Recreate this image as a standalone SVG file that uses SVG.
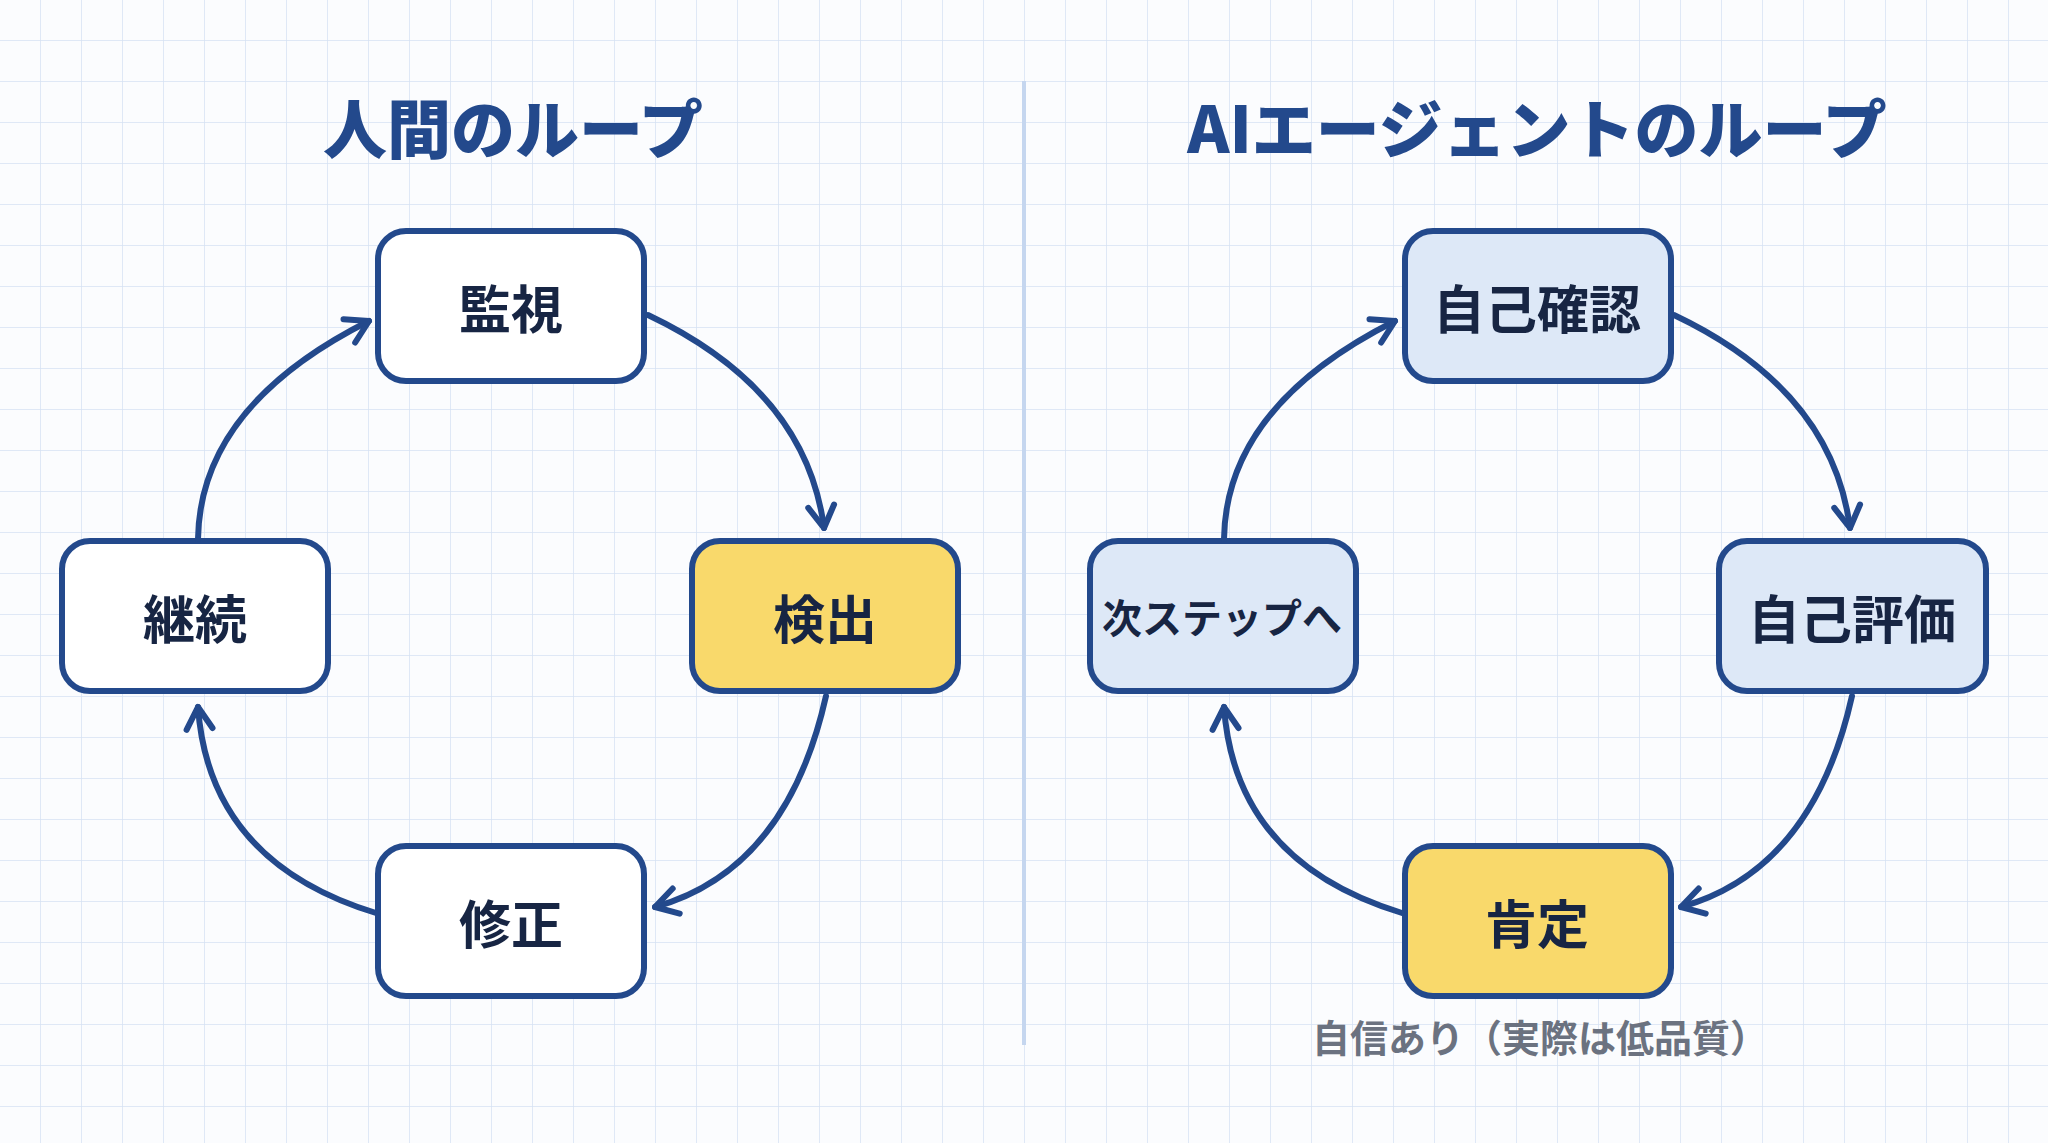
<svg xmlns="http://www.w3.org/2000/svg" width="2048" height="1143" viewBox="0 0 2048 1143">
<defs>
<pattern id="grid" width="41" height="41" patternUnits="userSpaceOnUse"><path d="M41 0V41M0 41H41" fill="none" stroke="#d6e2f3" stroke-width="1.5"/></pattern>
<marker id="ah" markerUnits="userSpaceOnUse" markerWidth="40" markerHeight="40" viewBox="-25 -20 30 40" refX="0" refY="0" orient="auto"><path d="M-22,-13 L0,0 L-22,13" fill="none" stroke="#23498c" stroke-width="6" stroke-linecap="round" stroke-linejoin="round"/></marker>
</defs>
<style>
.box{stroke:#23498c;stroke-width:6}
.w{fill:#ffffff}.y{fill:#f9d96b}.b{fill:#dde8f7}
.t{font-family:"Noto Sans CJK JP","Noto Sans",sans-serif;font-weight:bold;fill:#172543;text-anchor:middle;dominant-baseline:central;font-size:52px}
.h{font-family:"Noto Sans CJK JP","Noto Sans",sans-serif;font-weight:900;fill:#23498c;text-anchor:middle;font-size:64px}
.c{fill:none;stroke:#23498c;stroke-width:6;stroke-linecap:round;marker-end:url(#ah)}
</style>
<rect width="2048" height="1143" fill="#fbfcfe"/>
<rect width="2048" height="1143" fill="url(#grid)"/>
<line x1="1024" y1="81" x2="1024" y2="1045" stroke="#c5d6ef" stroke-width="4"/>
<text class="h" x="513" y="153">人間のループ</text>
<text class="h" x="1537" y="153">AIエージェントのループ</text>
<g id="n1"><rect class="box w" x="378" y="231" width="266" height="150" rx="28"/><text class="t" x="511" y="306">監視</text></g>
<g id="n2"><rect class="box y" x="692" y="541" width="266" height="150" rx="28"/><text class="t" x="825" y="616">検出</text></g>
<g id="n3"><rect class="box w" x="378" y="846" width="266" height="150" rx="28"/><text class="t" x="511" y="921">修正</text></g>
<g id="n4"><rect class="box w" x="62" y="541" width="266" height="150" rx="28"/><text class="t" x="195" y="616">継続</text></g>
<g id="m1"><rect class="box b" x="1405" y="231" width="266" height="150" rx="28"/><text class="t" x="1537" y="306">自己確認</text></g>
<g id="m2"><rect class="box b" x="1719" y="541" width="267" height="150" rx="28"/><text class="t" x="1852" y="616">自己評価</text></g>
<g id="m3"><rect class="box y" x="1405" y="846" width="266" height="150" rx="28"/><text class="t" x="1537" y="921">肯定</text></g>
<g id="m4"><rect class="box b" x="1090" y="541" width="266" height="150" rx="28"/><text class="t" x="1222" y="616" style="font-size:40px">次ステップへ</text></g>
<text x="1540" y="1052" style="font-family:'Noto Sans CJK JP',sans-serif;font-weight:bold;font-size:38px;fill:#6b7280;text-anchor:middle">自信あり（実際は低品質）</text>
<g id="connectors">
<path class="c" d="M648,315 Q806,390 824,528"/>
<path class="c" d="M826,696 Q787,870 655,907"/>
<path class="c" d="M376,913 Q209,862 198,707"/>
<path class="c" d="M198,539 Q200,406 369,321"/>
<path class="c" d="M1674,315 Q1832,390 1850,528"/>
<path class="c" d="M1852,696 Q1813,870 1681,907"/>
<path class="c" d="M1402,913 Q1235,862 1224,707"/>
<path class="c" d="M1224,539 Q1226,406 1395,321"/>
</g>
</svg>
